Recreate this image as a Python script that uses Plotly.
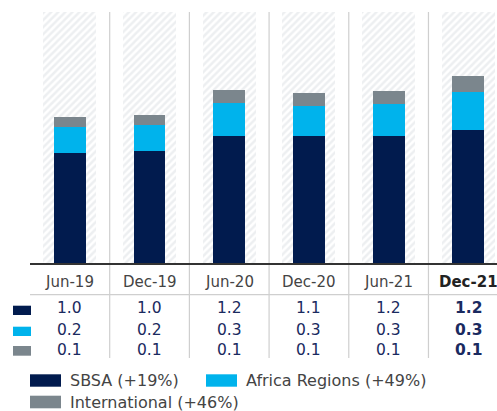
import plotly.graph_objects as go

# ---------------- data ----------------
periods = ["Jun-19", "Dec-19", "Jun-20", "Dec-20", "Jun-21", "Dec-21"]
sbsa = [1.00, 1.02, 1.15, 1.15, 1.15, 1.21]
africa = [0.23, 0.23, 0.30, 0.27, 0.29, 0.34]
international = [0.09, 0.09, 0.12, 0.12, 0.12, 0.14]
sbsa_labels = ["1.0", "1.0", "1.2", "1.1", "1.2", "1.2"]
africa_labels = ["0.2", "0.2", "0.3", "0.3", "0.3", "0.3"]
intl_labels = ["0.1", "0.1", "0.1", "0.1", "0.1", "0.1"]
legend_names = ["SBSA (+19%)", "Africa Regions (+49%)", "International (+46%)"]

# ---------------- styles ----------------
NAVY = "#011b4e"
CYAN = "#00b3ec"
GRAY = "#7b868d"
HATCH = "#dcdfe3"
SEP = "#cfcfcf"
TXT = "#444444"
VAL = "#1a2a60"
FONT = "DejaVu Sans"

W, H = 497, 411
ML, MR, MT, MB = 30, 0, 12, 147
PW, PH = W - ML - MR, H - MT - MB
Y_MAX = 2.27
X_RANGE = [-0.5, 5.36]


def px_x(px):
    return (px - ML) / PW


def px_y(py):
    return (H - MB - py) / PH


idx = list(range(len(periods)))
base_africa = [a for a in sbsa]
base_intl = [a + b for a, b in zip(sbsa, africa)]

fig = go.Figure()
# hatched background panels
fig.add_trace(go.Bar(
    x=idx, y=[Y_MAX] * len(idx), width=0.666,
    marker=dict(color="white", line=dict(width=0),
                pattern=dict(shape="/", fgcolor=HATCH, bgcolor="white", size=5, solidity=0.5)),
    hoverinfo="skip", showlegend=False))
fig.add_trace(go.Bar(x=idx, y=sbsa, width=0.40, marker=dict(color=NAVY, line=dict(width=0)),
                     name=legend_names[0], showlegend=False))
fig.add_trace(go.Bar(x=idx, y=africa, base=base_africa, width=0.40,
                     marker=dict(color=CYAN, line=dict(width=0)), name=legend_names[1], showlegend=False))
fig.add_trace(go.Bar(x=idx, y=international, base=base_intl, width=0.40,
                     marker=dict(color=GRAY, line=dict(width=0)), name=legend_names[2], showlegend=False))

shapes = []
annotations = []

# vertical separators
for i in idx[:-1]:
    shapes.append(dict(type="line", xref="x", yref="paper", x0=i + 0.5, x1=i + 0.5,
                       y0=1, y1=px_y(358), line=dict(color=SEP, width=1.2)))
# header underline
shapes.append(dict(type="line", xref="paper", yref="paper", x0=0, x1=1,
                   y0=px_y(294.7), y1=px_y(294.7), line=dict(color=SEP, width=1.2)))
# baseline
shapes.append(dict(type="line", xref="paper", yref="paper", x0=0, x1=1,
                   y0=0, y1=0, line=dict(color="#333333", width=2)))

# header and value rows
rows = [(sbsa_labels, 308.3), (africa_labels, 329.7), (intl_labels, 350.3)]
for i, p in enumerate(periods):
    last = i == len(periods) - 1
    annotations.append(dict(x=i, y=px_y(282.3), xref="x", yref="paper", showarrow=False,
                            text=f"<b>{p}</b>" if last else p,
                            font=dict(family=FONT, size=15, color="#222222" if last else TXT),
                            xanchor="center", yanchor="middle"))
    for labels, py in rows:
        annotations.append(dict(x=i, y=px_y(py), xref="x", yref="paper", showarrow=False,
                                text=f"<b>{labels[i]}</b>" if last else labels[i],
                                font=dict(family=FONT, size=15.5, color=VAL),
                                xanchor="center", yanchor="middle"))

# row swatches
for color, (y0, y1) in zip([NAVY, CYAN, GRAY], [(305.7, 315), (326.7, 336), (346, 355.7)]):
    shapes.append(dict(type="rect", xref="paper", yref="paper", x0=px_x(13), x1=px_x(31),
                       y0=px_y(y1), y1=px_y(y0), fillcolor=color, line=dict(width=0)))

# legend
legend_items = [
    (NAVY, legend_names[0], 30, 374.3, 386.7),
    (CYAN, legend_names[1], 206, 374.3, 386.7),
    (GRAY, legend_names[2], 30, 395.7, 408.3),
]
for color, name, x0, y0, y1 in legend_items:
    shapes.append(dict(type="rect", xref="paper", yref="paper", x0=px_x(x0), x1=px_x(x0 + 31),
                       y0=px_y(y1), y1=px_y(y0), fillcolor=color, line=dict(width=0)))
    annotations.append(dict(x=px_x(x0 + 38), y=px_y((y0 + y1) / 2), xref="paper", yref="paper",
                            showarrow=False, text=name, xanchor="left", yanchor="middle",
                            font=dict(family=FONT, size=16, color=TXT)))

fig.update_layout(
    width=W, height=H, autosize=False,
    margin=dict(l=ML, r=MR, t=MT, b=MB, pad=0),
    paper_bgcolor="white", plot_bgcolor="white",
    barmode="overlay", bargap=0,
    xaxis=dict(range=X_RANGE, showticklabels=False, showgrid=False, zeroline=False,
               showline=False, ticks="", fixedrange=True),
    yaxis=dict(range=[0, Y_MAX], showticklabels=False, showgrid=False, zeroline=False,
               showline=False, ticks="", fixedrange=True),
    shapes=shapes, annotations=annotations, showlegend=False,
)

fig.write_html("out.html", config={"displayModeBar": False},
               post_script="document.body.style.margin='0';")
